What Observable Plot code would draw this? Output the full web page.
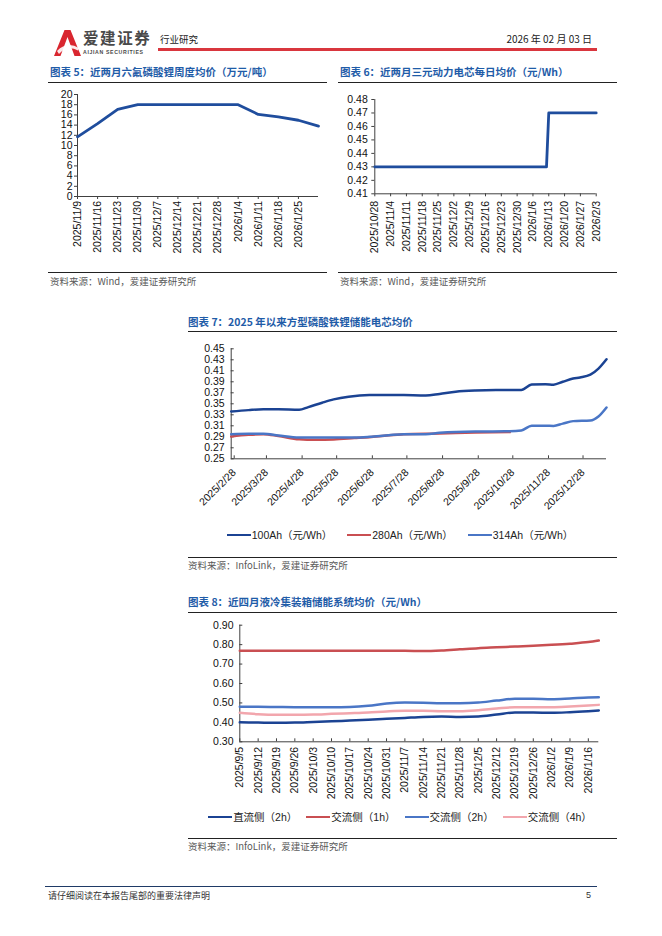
<!DOCTYPE html>
<html><head><meta charset="utf-8">
<script src="https://cdn.jsdelivr.net/npm/d3@7"></script>
<script src="https://cdn.jsdelivr.net/npm/@observablehq/plot@0.6"></script>
<style>
body{margin:0;background:#fff;width:662px;height:936px;position:relative;overflow:hidden;font-family:"Liberation Sans","Noto Sans CJK SC",sans-serif;}
.abs{position:absolute;white-space:nowrap;line-height:1;}
.title{font-family:"Noto Sans CJK SC",sans-serif;font-weight:bold;font-size:10.5px;color:#1f5ca8;}
.hr{position:absolute;height:0;border-top:1px solid #222;}
.src{font-family:"Noto Sans CJK SC",sans-serif;font-size:9.5px;color:#595959;}
.legend{position:absolute;display:flex;justify-content:center;align-items:center;font-size:10.5px;color:#222;line-height:1;}
.legend span.item{display:flex;align-items:center;gap:1px;}
.legend i{display:inline-block;width:24px;height:0;border-top:2.5px solid;}
.plot{position:absolute;}
</style></head>
<body>
<!-- header -->
<svg class="abs" style="left:54px;top:30px" width="27" height="26" viewBox="0 0 27 26">
  <path d="M0 26 L10.5 0 L16.5 0 L27 26 L20.5 26 L13.5 7 L6.5 26 Z" fill="#d9262f"/>
  <path d="M3 21 Q13 11 25 18 L24 20.5 Q13 14.5 5 24 Z" fill="#fff" opacity="0.9"/>
</svg>
<div class="abs" style="left:83px;top:30px;height:15px;line-height:15px;font-family:'Noto Sans CJK SC';font-weight:bold;font-size:15.5px;color:#4a4a4a;letter-spacing:1.6px">爱建证券</div>
<div class="abs" style="left:83px;top:50px;font-family:'Liberation Sans';font-weight:bold;font-size:5.2px;color:#4a4a4a;letter-spacing:0.65px">AIJIAN SECURITIES</div>
<div class="abs" style="left:160px;top:35px;font-family:'Noto Sans CJK SC';font-size:9.5px;color:#222">行业研究</div>
<div class="abs" style="right:70px;top:34px;font-family:'Noto Sans CJK SC';font-size:10px;color:#222">2026 年 02 月 03 日</div>
<div class="abs" style="left:158px;top:48px;width:439px;height:3px;background:#d9363e"></div>

<!-- chart 5 -->
<div class="abs title" style="left:50px;top:67px">图表 5：近两月六氟磷酸锂周度均价（万元/吨）</div>
<div class="hr" style="left:48px;top:82px;width:279px"></div>
<div id="c5" class="plot" style="left:40px;top:85px"></div>
<div class="hr" style="left:48px;top:272px;width:279px"></div>
<div class="abs src" style="left:50px;top:277px">资料来源：Wind，爱建证券研究所</div>

<!-- chart 6 -->
<div class="abs title" style="left:340px;top:67px">图表 6：近两月三元动力电芯每日均价（元/Wh）</div>
<div class="hr" style="left:338px;top:82px;width:279px"></div>
<div id="c6" class="plot" style="left:330px;top:85px"></div>
<div class="hr" style="left:338px;top:272px;width:279px"></div>
<div class="abs src" style="left:340px;top:277px">资料来源：Wind，爱建证券研究所</div>

<!-- chart 7 -->
<div class="abs title" style="left:188px;top:317px">图表 7：2025 年以来方型磷酸铁锂储能电芯均价</div>
<div class="hr" style="left:188px;top:331px;width:429px"></div>
<div id="c7" class="plot" style="left:180px;top:338px"></div>
<div id="l7" class="legend" style="left:180px;top:530px;width:440px;gap:15px"></div>
<div class="hr" style="left:188px;top:557px;width:429px"></div>
<div class="abs src" style="left:188px;top:561px">资料来源：InfoLink，爱建证券研究所</div>

<!-- chart 8 -->
<div class="abs title" style="left:188px;top:597px">图表 8：近四月液冷集装箱储能系统均价（元/Wh）</div>
<div class="hr" style="left:188px;top:612px;width:429px"></div>
<div id="c8" class="plot" style="left:180px;top:615px"></div>
<div id="l8" class="legend" style="left:180px;top:812px;width:440px;gap:9px"></div>
<div class="hr" style="left:188px;top:838px;width:429px"></div>
<div class="abs src" style="left:188px;top:842px">资料来源：InfoLink，爱建证券研究所</div>

<!-- footer -->
<div class="abs" style="left:45px;top:886px;width:552px;height:1px;background:#1f3a66"></div>
<div class="abs" style="left:48px;top:891px;font-family:'Noto Sans CJK SC';font-size:9px;color:#333">请仔细阅读在本报告尾部的重要法律声明</div>
<div class="abs" style="left:586px;top:891px;font-family:'Liberation Sans';font-size:9px;color:#333">5</div>

<script>
// ---------- data ----------
// Chart 5: weekly LiPF6 price (万元/吨)
const c5Dates  = ["2025/11/9","2025/11/16","2025/11/23","2025/11/30","2025/12/7","2025/12/14","2025/12/21","2025/12/28","2026/1/4","2026/1/11","2026/1/18","2026/1/25","2026/2/1"];
const c5Values = [11.7, 14.3, 17.1, 18.0, 18.0, 18.0, 18.0, 18.0, 18.0, 16.1, 15.6, 14.95, 13.8];
const c5XTicks = ["2025/11/9","2025/11/16","2025/11/23","2025/11/30","2025/12/7","2025/12/14","2025/12/21","2025/12/28","2026/1/4","2026/1/11","2026/1/18","2026/1/25"];
const c5YTicks = [0,2,4,6,8,10,12,14,16,18,20];

// Chart 6: daily NCM power cell price (元/Wh), change points
const c6Dates  = ["2025/10/28","2026/1/12","2026/1/13","2026/2/3"];
const c6Values = [0.43, 0.43, 0.47, 0.47];
const c6XTicks = ["2025/10/28","2025/11/4","2025/11/11","2025/11/18","2025/11/25","2025/12/2","2025/12/9","2025/12/16","2025/12/23","2025/12/30","2026/1/6","2026/1/13","2026/1/20","2026/1/27","2026/2/3"];
const c6YTicks = [0.41,0.42,0.43,0.44,0.45,0.46,0.47,0.48];

// Chart 7: LFP storage cell prices
const c7Series = ["100Ah（元/Wh）","280Ah（元/Wh）","314Ah（元/Wh）"];
const c7Dates100 = ["2025/2/28","2025/3/15","2025/3/28","2025/4/10","2025/4/28","2025/5/6","2025/5/18","2025/5/28","2025/6/10","2025/6/28","2025/7/15","2025/7/28","2025/8/16","2025/8/28","2025/9/11","2025/9/28","2025/10/16","2025/10/28","2025/11/7","2025/11/16","2025/11/28","2025/12/5","2025/12/13","2025/12/22","2025/12/28","2026/1/6","2026/1/13","2026/1/20"];
const c7Val100   = [0.336,0.3385,0.340,0.340,0.339,0.344,0.352,0.358,0.363,0.366,0.366,0.3658,0.365,0.368,0.372,0.3742,0.375,0.375,0.375,0.385,0.3855,0.3848,0.390,0.396,0.398,0.403,0.414,0.431];
const c7Dates280 = ["2025/2/28","2025/3/15","2025/3/28","2025/4/10","2025/4/28","2025/5/12","2025/5/28","2025/6/15","2025/6/28","2025/7/15","2025/7/28","2025/8/28","2025/9/28","2025/10/28"];
const c7Val280   = [0.2905,0.2935,0.2948,0.2915,0.2855,0.2845,0.2852,0.2876,0.2894,0.293,0.2948,0.296,0.2978,0.2985];
const c7Dates314 = ["2025/2/28","2025/3/15","2025/3/28","2025/4/10","2025/4/28","2025/5/28","2025/6/15","2025/6/28","2025/7/15","2025/7/28","2025/8/16","2025/8/28","2025/9/28","2025/10/28","2025/11/7","2025/11/16","2025/11/28","2025/12/5","2025/12/13","2025/12/22","2026/1/6","2026/1/13","2026/1/20"];
const c7Val314   = [0.2948,0.2955,0.2955,0.2925,0.2888,0.2888,0.2888,0.290,0.293,0.2948,0.2948,0.2973,0.2997,0.300,0.3015,0.310,0.310,0.3098,0.314,0.3185,0.3197,0.327,0.3433];
const c7XTicks = ["2025/2/28","2025/3/28","2025/4/28","2025/5/28","2025/6/28","2025/7/28","2025/8/28","2025/9/28","2025/10/28","2025/11/28","2025/12/28"];
const c7YTicks = [0.25,0.27,0.29,0.31,0.33,0.35,0.37,0.39,0.41,0.43,0.45];

// Chart 8: liquid-cooled container ESS prices (weekly)
const c8Series = ["直流侧（2h）","交流侧（1h）","交流侧（2h）","交流侧（4h）"];
const c8Dates = ["2025/9/5","2025/9/12","2025/9/19","2025/9/26","2025/10/3","2025/10/10","2025/10/17","2025/10/24","2025/10/31","2025/11/7","2025/11/14","2025/11/21","2025/11/28","2025/12/5","2025/12/12","2025/12/19","2025/12/26","2026/1/2","2026/1/9","2026/1/16","2026/1/20"];
const c8DC2h = [0.400,0.399,0.398,0.399,0.4025,0.406,0.409,0.413,0.418,0.423,0.428,0.430,0.428,0.430,0.440,0.4506,0.4506,0.449,0.4523,0.4575,0.461];
const c8AC1h = [0.768,0.768,0.768,0.768,0.768,0.768,0.768,0.768,0.768,0.768,0.767,0.770,0.776,0.782,0.786,0.790,0.794,0.799,0.805,0.813,0.821];
const c8AC2h = [0.480,0.480,0.479,0.478,0.478,0.4776,0.479,0.485,0.497,0.502,0.501,0.4985,0.4985,0.502,0.512,0.521,0.521,0.519,0.523,0.528,0.529];
const c8AC4h = [0.449,0.442,0.439,0.439,0.440,0.4437,0.447,0.4506,0.456,0.4592,0.4592,0.4575,0.4575,0.4626,0.471,0.478,0.478,0.478,0.4815,0.4866,0.490];
const c8XTicks = ["2025/9/5","2025/9/12","2025/9/19","2025/9/26","2025/10/3","2025/10/10","2025/10/17","2025/10/24","2025/10/31","2025/11/7","2025/11/14","2025/11/21","2025/11/28","2025/12/5","2025/12/12","2025/12/19","2025/12/26","2026/1/2","2026/1/9","2026/1/16"];
const c8YTicks = [0.30,0.40,0.50,0.60,0.70,0.80,0.90];

// colours
const cDark = "#1b4393", cRed = "#c94f52", cMid = "#4a76c6", cPink = "#f2a6ad", cSingle = "#1f4d9d";

// ---------- helpers ----------
const P = d3.utcParse("%Y/%m/%d");
const fmtDate = d => `${d.getUTCFullYear()}/${d.getUTCMonth()+1}/${d.getUTCDate()}`;
const f2 = d => d.toFixed(2);
const axisColor = "#404040";
const baseStyle = {fontFamily:'"Liberation Sans", Arial, sans-serif', fontSize:"10.5px", color:"#111", background:"transparent", overflow:"visible"};
const zip = (ds, vs, s) => ds.map((d,i) => ({date:P(d), value:vs[i], series:s}));

// ---------- chart 5 ----------
{
  const data = zip(c5Dates, c5Values, "a");
  const p = Plot.plot({
    width:285, height:180, marginLeft:37, marginRight:7, marginTop:9, marginBottom:69,
    style: baseStyle,
    x:{type:"utc", domain:[data[0].date, data[data.length-1].date], label:null},
    y:{domain:[0,20], label:null},
    marks:[
      Plot.axisY(c5YTicks, {tickSize:3, tickPadding:2, stroke:axisColor, tickFormat:d=>String(d), label:null}),
      Plot.axisX(c5XTicks.map(P), {tickSize:3, tickPadding:1.5, tickRotate:-90, stroke:axisColor, tickFormat:fmtDate, label:null}),
      Plot.ruleX([data[0].date], {stroke:axisColor}),
      Plot.ruleY([0], {stroke:axisColor}),
      Plot.lineY(data, {x:"date", y:"value", stroke:cSingle, strokeWidth:2.8})
    ]
  });
  document.getElementById("c5").append(p);
}

// ---------- chart 6 ----------
{
  const data = zip(c6Dates, c6Values, "a");
  const p = Plot.plot({
    width:295, height:180, marginLeft:44.3, marginRight:29.3, marginTop:14, marginBottom:71.7,
    style: baseStyle,
    x:{type:"utc", domain:[P(c6XTicks[0]), P(c6XTicks[c6XTicks.length-1])], label:null},
    y:{domain:[0.41,0.48], label:null},
    marks:[
      Plot.axisY(c6YTicks, {tickSize:3, tickPadding:4, stroke:axisColor, tickFormat:f2, label:null}),
      Plot.axisX(c6XTicks.map(P), {tickSize:3, tickPadding:4, tickRotate:-90, stroke:axisColor, tickFormat:fmtDate, label:null}),
      Plot.ruleX([P(c6XTicks[0])], {stroke:axisColor}),
      Plot.ruleY([0.41], {stroke:axisColor}),
      Plot.lineY(data, {x:"date", y:"value", stroke:cSingle, strokeWidth:2.8})
    ]
  });
  document.getElementById("c6").append(p);
}

// ---------- chart 7 ----------
{
  const d100 = zip(c7Dates100, c7Val100, c7Series[0]);
  const d280 = zip(c7Dates280, c7Val280, c7Series[1]);
  const d314 = zip(c7Dates314, c7Val314, c7Series[2]);
  const p = Plot.plot({
    width:440, height:185, marginLeft:50.7, marginRight:14, marginTop:10.3, marginBottom:64.7,
    style: baseStyle,
    x:{type:"utc", domain:[d100[0].date, d100[d100.length-1].date], label:null},
    y:{domain:[0.25,0.45], label:null},
    marks:[
      Plot.axisY(c7YTicks, {tickSize:-3, tickPadding:9.5, stroke:axisColor, tickFormat:f2, label:null}),
      Plot.axisX(c7XTicks.map(P), {tickSize:-3, tickPadding:15, dx:3, tickRotate:-45, stroke:axisColor, tickFormat:fmtDate, label:null}),
      Plot.ruleX([d100[0].date], {stroke:axisColor}),
      Plot.ruleY([0.25], {stroke:axisColor}),
      Plot.lineY(d280, {x:"date", y:"value", stroke:cRed, strokeWidth:2.5, curve:"monotone-x"}),
      Plot.lineY(d314, {x:"date", y:"value", stroke:cMid, strokeWidth:2.5, curve:"monotone-x"}),
      Plot.lineY(d100, {x:"date", y:"value", stroke:cDark, strokeWidth:2.5, curve:"monotone-x"})
    ]
  });
  document.getElementById("c7").append(p);
  const colors = [cDark, cRed, cMid];
  document.getElementById("l7").innerHTML = c7Series.map((s,i) =>
    `<span class="item"><i style="border-color:${colors[i]}"></i>${s}</span>`).join("");
}

// ---------- chart 8 ----------
{
  const dDC = zip(c8Dates, c8DC2h, c8Series[0]);
  const dA1 = zip(c8Dates, c8AC1h, c8Series[1]);
  const dA2 = zip(c8Dates, c8AC2h, c8Series[2]);
  const dA4 = zip(c8Dates, c8AC4h, c8Series[3]);
  const p = Plot.plot({
    width:440, height:190, marginLeft:59.3, marginRight:21.7, marginTop:9.7, marginBottom:63.7,
    style: baseStyle,
    x:{type:"utc", domain:[dDC[0].date, dDC[dDC.length-1].date], label:null},
    y:{domain:[0.30,0.90], label:null},
    marks:[
      Plot.axisY(c8YTicks, {tickSize:-3, tickPadding:9.3, stroke:axisColor, tickFormat:f2, label:null}),
      Plot.axisX(c8XTicks.map(P), {tickSize:-3, tickPadding:8, tickRotate:-90, stroke:axisColor, tickFormat:fmtDate, label:null}),
      Plot.ruleX([dDC[0].date], {stroke:axisColor}),
      Plot.ruleY([0.30], {stroke:axisColor}),
      Plot.lineY(dA1, {x:"date", y:"value", stroke:cRed, strokeWidth:2.5, curve:"monotone-x"}),
      Plot.lineY(dA4, {x:"date", y:"value", stroke:cPink, strokeWidth:2.5, curve:"monotone-x"}),
      Plot.lineY(dA2, {x:"date", y:"value", stroke:cMid, strokeWidth:2.5, curve:"monotone-x"}),
      Plot.lineY(dDC, {x:"date", y:"value", stroke:cDark, strokeWidth:2.5, curve:"monotone-x"})
    ]
  });
  document.getElementById("c8").append(p);
  const colors = [cDark, cRed, cMid, cPink];
  document.getElementById("l8").innerHTML = c8Series.map((s,i) =>
    `<span class="item"><i style="border-color:${colors[i]}"></i>${s}</span>`).join("");
}
</script>
</body></html>
